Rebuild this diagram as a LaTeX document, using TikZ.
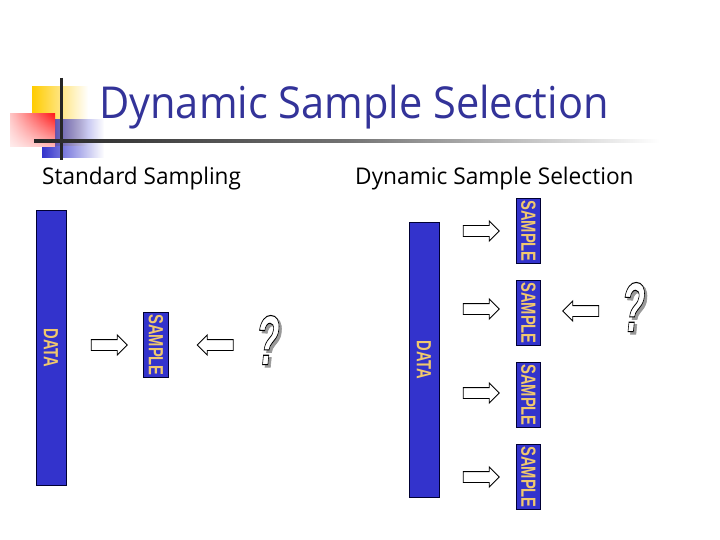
\documentclass[tikz,border=0pt]{standalone}
\usepackage{fontspec}
\usepackage{graphicx}
\setmainfont{Open Sans}
\newfontfamily\boxfont{Liberation Sans Bold}
\newfontface\qfont[FakeSlant=0.18,FakeBold=1.5]{Liberation Sans Bold}
\usetikzlibrary{shapes.arrows,fadings}
\definecolor{slidetitle}{RGB}{51,51,153}
\definecolor{boxblue}{RGB}{51,51,204}
\definecolor{boxtext}{RGB}{240,200,110}
\definecolor{logoyellow}{RGB}{255,204,0}
\tikzset{
  databox/.style={draw=black!80!blue, line width=1pt, fill=boxblue, text=boxtext, rotate=-90, minimum width=#1, minimum height=30pt, inner sep=0pt, font=\boxfont\fontsize{20.5}{20.5}\selectfont},
  samplebox/.style={draw=black!80!blue, line width=1pt, fill=boxblue, text=boxtext, rotate=-90, minimum width=65.5pt, minimum height=24.5pt, inner sep=0pt, font=\boxfont\fontsize{20.5}{20.5}\selectfont},
  blockarrow/.style={draw=black, line width=0.9pt, fill=white, single arrow, single arrow head extend=4.5pt, inner sep=5pt, minimum height=36pt, shape border rotate=#1},
  heading/.style={anchor=west, inner sep=0pt, font=\fontsize{23}{23}\selectfont},
}
\newcommand{\squeeze}[1]{\raisebox{-1.5pt}{\scalebox{0.72}[1]{#1}}}
\newcommand{\qmark}[2]{\scalebox{1.0}[1.85]{\qfont\fontsize{38}{38}\selectfont\textcolor{#2}{\special{pdf:code #1 RG}?}}}
\begin{document}
\begin{tikzpicture}[x=1pt,y=-1pt]
  \useasboundingbox (0,0) rectangle (720,540);
  \fill[white] (0,0) rectangle (720,540);

  % logo squares
  \fill[logoyellow, path fading=east] (32,86) rectangle (88,146);
  \fill[boxblue, path fading=east] (42,119) rectangle (104,158);
  \shade[left color=red!22, right color=red!90] (10,114) rectangle (55,147);
  \fill[white, path fading=north, opacity=0.7] (10,114) rectangle (55,147);
  \draw[line width=3pt, black!85] (61,78) -- (61,160);
  \shade[left color=black!85, right color=white, middle color=black!55] (34,139.5) rectangle (660,142.5);

  % title and headings
  \node[anchor=base west, inner sep=0pt, text=slidetitle, font=\fontsize{44}{44}\selectfont] (title) at (99,119) {\scalebox{0.944}[1]{Dynamic Sample Selection}};
  \node[heading] (standard) at (42,179) {\scalebox{0.98}[1]{Standard Sampling}};
  \node[heading] (dynamic) at (355,179) {\scalebox{0.987}[1]{Dynamic Sample Selection}};

  % standard sampling
  \node[databox=275.5pt] (dataleft) at (51,348) {\squeeze{DATA}};
  \node[samplebox] (sampleleft) at (156,345) {\squeeze{SAMPLE}};
  \node[blockarrow=0] (arrowleft) at (106.5,345) {};
  \node[blockarrow=180] (backleft) at (218,345) {};

  % dynamic sample selection
  \node[databox=275.5pt] (dataright) at (424,360) {\squeeze{DATA}};
  \foreach \name/\ypos in {a/231, b/313, c/395, d/477} {
    \node[samplebox] (sample\name) at (528.5,\ypos) {\squeeze{SAMPLE}};
  }
  \foreach \name/\ypos in {a/231, b/309, c/393, d/477} {
    \node[blockarrow=0] (arrow\name) at (478.5,\ypos) {};
  }
  \node[blockarrow=180] (backright) at (583.5,311) {};

  % question marks
  \foreach \name/\xpos/\ypos in {left/266/340, right/631.5/307} {
    \node[inner sep=0pt] (shadow\name) at (\xpos+2.5,\ypos+2.5) {\qmark{0.6 0.6 0.6}{black!40}};
    \node[inner sep=0pt] (query\name) at (\xpos,\ypos) {\qmark{0 0 0}{white}};
  }
\end{tikzpicture}
\end{document}
